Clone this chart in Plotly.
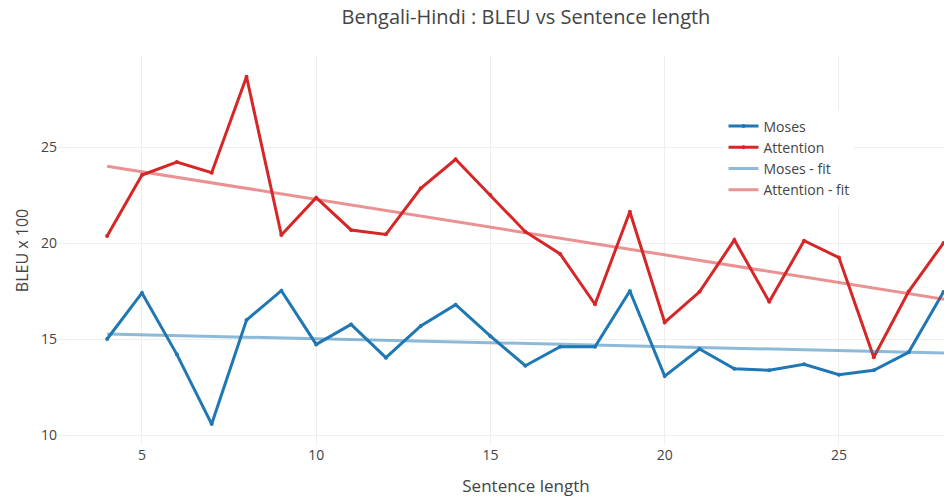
import plotly.graph_objects as go

sentence_length = list(range(4, 29))
moses_bleu = [15.0, 17.4, 14.2, 10.57, 15.99, 17.52, 14.72, 15.76, 14.03, 15.68, 16.79,
              15.15, 13.61, 14.6, 14.6, 17.5, 13.07, 14.48, 13.45, 13.37, 13.68, 13.14,
              13.37, 14.31, 17.45]
attention_bleu = [20.37, 23.54, 24.22, 23.66, 28.66, 20.42, 22.36, 20.68, 20.45, 22.85, 24.36,
                  22.5, 20.59, 19.43, 16.81, 21.63, 15.87, 17.46, 20.16, 16.94, 20.12, 19.24,
                  14.05, 17.47, 20.0]

fit_x = [4, 30]
moses_fit = [15.26, 14.19]
attention_fit = [24.0, 16.5]

blue = "#1f77b4"
red = "#d62728"

fig = go.Figure()
fig.add_trace(go.Scatter(x=sentence_length, y=moses_bleu, mode="lines+markers", name="Moses",
                         line=dict(color=blue, width=3), marker=dict(size=4, color=blue)))
fig.add_trace(go.Scatter(x=sentence_length, y=attention_bleu, mode="lines+markers", name="Attention",
                         line=dict(color=red, width=3), marker=dict(size=4, color=red)))
fig.add_trace(go.Scatter(x=fit_x, y=moses_fit, mode="lines", name="Moses - fit",
                         line=dict(color=blue, width=3), opacity=0.5))
fig.add_trace(go.Scatter(x=fit_x, y=attention_fit, mode="lines", name="Attention - fit",
                         line=dict(color=red, width=3), opacity=0.5))

fig.update_layout(
    width=1036, height=502,
    margin=dict(l=58, r=42, t=56, b=57),
    template="none",
    paper_bgcolor="white", plot_bgcolor="white",
    font=dict(family="Open Sans", color="#444", size=14),
    title=dict(text="Bengali-Hindi : BLEU vs Sentence length", x=526 / 1036, xanchor="center",
               y=1 - 17 / 502, yanchor="middle", font=dict(size=20)),
    xaxis=dict(title=dict(text="Sentence length", font=dict(size=17), standoff=17),
               range=[2.59, 29.45],
               dtick=5, tick0=0, showgrid=True, gridcolor="#eee", zeroline=False,
               showline=False, ticks="", tickfont=dict(size=14)),
    yaxis=dict(title=dict(text="BLEU x 100", font=dict(size=16), standoff=8),
               range=[9.48, 29.74],
               dtick=5, tick0=0, showgrid=True, gridcolor="#eee", zeroline=False,
               showline=False, ticks="", tickfont=dict(size=14)),
    legend=dict(x=0.711, y=0.86, xanchor="left", yanchor="top", bgcolor="white",
                font=dict(size=14), itemwidth=30),
    showlegend=True,
)

fig.write_html(
    "out.html",
    config={"displayModeBar": False},
    post_script="document.body.style.margin='0';document.documentElement.style.overflow='hidden';document.body.style.overflow='hidden';",
)
